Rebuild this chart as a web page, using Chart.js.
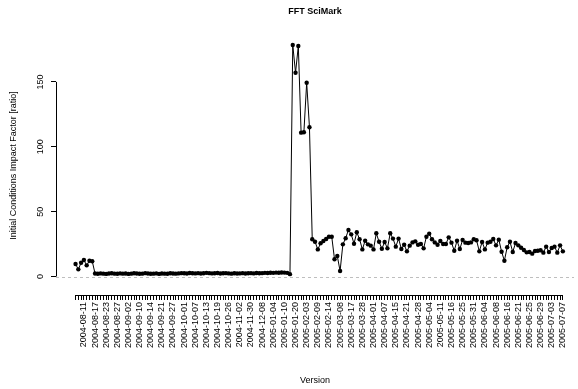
<!DOCTYPE html>
<html>
<head>
<meta charset="utf-8">
<title>FFT SciMark</title>
<script src="https://cdn.jsdelivr.net/npm/chart.js@4.4.1/dist/chart.umd.min.js"></script>
<style>
  html, body { margin: 0; padding: 0; background: #fff; }
</style>
</head>
<body>
<canvas id="fftChart" width="578" height="389"></canvas>
<script>
// version dates that get a label on the x axis (every 4th run)
const versionLabels = [
    '2004-08-11', '2004-08-17', '2004-08-23', '2004-08-27', '2004-09-02', '2004-09-10',
    '2004-09-14', '2004-09-21', '2004-09-27', '2004-10-01', '2004-10-07', '2004-10-13',
    '2004-10-19', '2004-10-26', '2004-11-02', '2004-11-30', '2004-12-08', '2005-01-04',
    '2005-01-10', '2005-01-20', '2005-02-03', '2005-02-09', '2005-02-14', '2005-03-08',
    '2005-03-17', '2005-03-28', '2005-04-01', '2005-04-07', '2005-04-15', '2005-04-21',
    '2005-04-28', '2005-05-04', '2005-05-11', '2005-05-16', '2005-05-25', '2005-05-31',
    '2005-06-04', '2005-06-08', '2005-06-16', '2005-06-21', '2005-06-25', '2005-06-29',
    '2005-07-03', '2005-07-07'
];
const labelStart = 3;
const labelStep = 4;

// impact factor per run
const earlyRuns = [9.6, 5.5, 10.6, 12.7, 8.6, 12.2, 11.7];
const flatRuns = [
    2.3, 2.1, 2.4, 2.2, 2.0, 2.3, 2.5, 2.2, 2.1, 2.4,
    2.2, 2.3, 2.0, 2.2, 2.5, 2.3, 2.1, 2.2, 2.6, 2.3,
    2.1, 2.2, 2.4, 2.0, 2.3, 2.2, 2.1, 2.5, 2.3, 2.2,
    2.4, 2.6, 2.5, 2.3, 2.7, 2.5, 2.4, 2.6, 2.3, 2.5,
    2.8, 2.6, 2.4, 2.5, 2.7, 2.3, 2.5, 2.6, 2.4, 2.2,
    2.5, 2.3, 2.4, 2.6, 2.3, 2.5, 2.6, 2.4, 2.7, 2.5,
    2.6, 2.8, 2.7, 2.9, 2.8, 3.0, 2.9, 3.1, 3.0, 2.8,
    1.8
];
const lateRuns = [
    178.5, 157.1, 177.7, 110.9, 111.2, 149.4, 115.0, 28.7, 26.8, 20.9,
    25.6, 27.4, 28.9, 30.7, 30.7, 13.3, 15.8, 4.2, 24.8, 29.5,
    35.9, 32.5, 25.3, 34.1, 28.7, 20.9, 27.6, 24.8, 23.8, 20.9,
    33.3, 26.8, 21.4, 26.6, 21.7, 33.3, 29.2, 23.0, 29.2, 21.2,
    24.5, 19.4, 23.8, 26.3, 27.1, 24.5, 25.1, 21.7, 30.7, 33.0,
    28.7, 26.3, 24.5, 27.4, 25.1, 25.1, 30.2, 26.1, 19.9, 27.6,
    21.2, 28.2, 26.1, 25.8, 26.3, 28.7, 27.9, 19.4, 26.6, 20.9,
    26.1, 26.8, 28.9, 24.0, 28.4, 19.1, 12.2, 22.5, 26.8, 18.9,
    25.8, 24.0, 22.2, 20.4, 18.6, 18.9, 17.6, 19.7, 19.9, 20.2,
    18.4, 23.0, 18.9, 22.0, 23.0, 18.4, 24.0, 19.4
];
const yTicks = [0, 50, 100, 150];

const ratio = earlyRuns.concat(flatRuns, lateRuns);
const runLabels = ratio.map((v, i) =>
    (i - labelStart) % labelStep === 0 ? versionLabels[(i - labelStart) / labelStep] || '' : '');

const FONT = '"Liberation Sans", Arial, Helvetica, sans-serif';

// R style bits: dashed zero line, short axis lines, rotated y labels, title
const rPlotExtras = {
    id: 'rPlotExtras',
    beforeDatasetsDraw(chart) {
        const { ctx, chartArea } = chart;
        const y0 = Math.round(chart.scales.y.getPixelForValue(0)) + 0.5;
        ctx.save();
        ctx.strokeStyle = '#bebebe';
        ctx.lineWidth = 1;
        ctx.setLineDash([3, 3]);
        ctx.beginPath();
        ctx.moveTo(chartArea.left, y0);
        ctx.lineTo(chartArea.right, y0);
        ctx.stroke();
        ctx.restore();
    },
    afterDraw(chart) {
        const { ctx, chartArea } = chart;
        const x = chart.scales.x;
        const y = chart.scales.y;
        ctx.save();
        ctx.strokeStyle = '#000';
        ctx.lineWidth = 1;
        ctx.beginPath();
        const bx = Math.round(chartArea.bottom) + 0.5;
        ctx.moveTo(x.getPixelForValue(0), bx);
        ctx.lineTo(x.getPixelForValue(ratio.length - 1), bx);
        const lx = Math.round(chartArea.left) + 0.5;
        ctx.moveTo(lx, y.getPixelForValue(yTicks[0]));
        ctx.lineTo(lx, y.getPixelForValue(yTicks[yTicks.length - 1]));
        ctx.stroke();

        ctx.fillStyle = '#000';
        ctx.font = '9px ' + FONT;
        ctx.textAlign = 'center';
        ctx.textBaseline = 'middle';
        yTicks.forEach(t => {
            ctx.save();
            ctx.translate(chartArea.left - 15, y.getPixelForValue(t));
            ctx.rotate(-Math.PI / 2);
            ctx.fillText(String(t), 0, 0);
            ctx.restore();
        });

        ctx.font = 'bold 9px ' + FONT;
        ctx.fillText('FFT SciMark', (chartArea.left + chartArea.right) / 2, 12);
        ctx.restore();
    }
};

function drawFftChart() {
    const ctx = document.getElementById('fftChart').getContext('2d');
    new Chart(ctx, {
        type: 'line',
        data: {
            datasets: [{
                data: ratio.map((v, i) => ({ x: i, y: v })),
                borderColor: '#000',
                borderWidth: 1,
                backgroundColor: '#000',
                pointRadius: 2.2,
                pointBorderWidth: 0,
                pointBackgroundColor: '#000',
                tension: 0
            }]
        },
        options: {
            responsive: false,
            animation: false,
            layout: { padding: { top: 36, right: 0, bottom: 0, left: 0 } },
            plugins: {
                legend: { display: false },
                tooltip: { enabled: false }
            },
            scales: {
                x: {
                    type: 'linear',
                    min: -7.02,
                    max: 179.0,
                    afterBuildTicks: scale => {
                        scale.ticks = runLabels.map((l, i) => ({ value: i }));
                    },
                    afterFit: scale => { scale.height = 94; },
                    ticks: {
                        autoSkip: false,
                        minRotation: 90,
                        maxRotation: 90,
                        padding: 2,
                        color: '#000',
                        font: { size: 9, family: FONT },
                        callback: (value) => runLabels[value]
                    },
                    grid: {
                        drawOnChartArea: false,
                        drawTicks: true,
                        tickLength: 5,
                        color: '#000'
                    },
                    border: { display: false },
                    title: {
                        display: true,
                        text: 'Version',
                        color: '#000',
                        font: { size: 9, family: FONT },
                        padding: { top: 0, bottom: 2.6 }
                    }
                },
                y: {
                    min: -14.26,
                    max: 185.4,
                    afterBuildTicks: scale => {
                        scale.ticks = yTicks.map(t => ({ value: t }));
                    },
                    afterFit: scale => { scale.width = 56; },
                    ticks: { display: false },
                    grid: {
                        drawOnChartArea: false,
                        drawTicks: true,
                        tickLength: 5,
                        color: '#000'
                    },
                    border: { display: false },
                    title: {
                        display: true,
                        text: 'Initial Conditions Impact Factor [ratio]',
                        color: '#000',
                        font: { size: 9, family: FONT },
                        padding: { top: 8, bottom: 0 }
                    }
                }
            }
        },
        plugins: [rPlotExtras]
    });
}

document.addEventListener('DOMContentLoaded', drawFftChart);
</script>
</body>
</html>
